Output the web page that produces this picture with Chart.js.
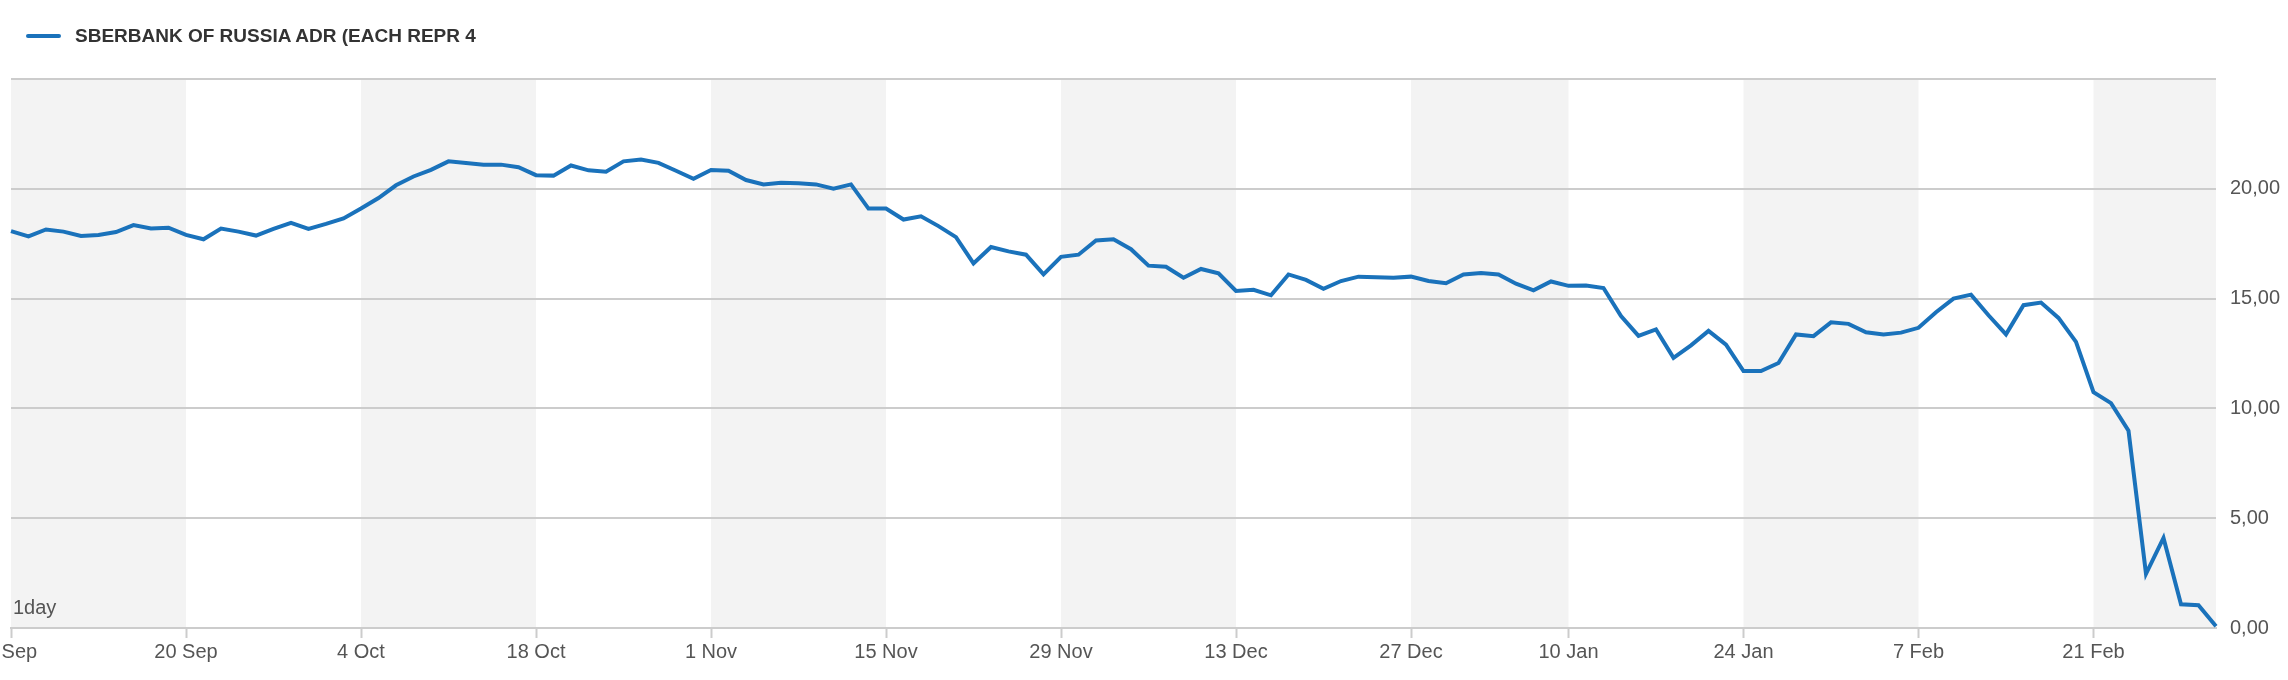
<!DOCTYPE html>
<html>
<head>
<meta charset="utf-8">
<script src="https://cdn.jsdelivr.net/npm/chart.js@4"></script>
<style>
  body { margin: 0; background: #fff; }
  #wrap { position: relative; width: 2288px; height: 680px; }
  #legend { position: absolute; left: 26px; top: 25px; font: bold 19px "Liberation Sans", Arial, sans-serif; color: #333; display: flex; align-items: center; }
  #legend span.swatch { display: inline-block; width: 35px; height: 4px; background: #1a72bb; margin-right: 14px; border-radius: 2px; }
  #period { position: absolute; left: 13px; top: 596px; font: 20px "Liberation Sans", Arial, sans-serif; color: #555; }
</style>
</head>
<body>
<div id="wrap">
  <canvas id="chart" width="2288" height="680"></canvas>
  <div id="legend"><span class="swatch"></span>SBERBANK OF RUSSIA ADR (EACH REPR 4</div>
  <div id="period">1day</div>
</div>
<script>
// daily closes, 6 Sep .. early Mar (trading days)
const prices = [
  18.07, 17.83, 18.15, 18.05, 17.85, 17.9, 18.03, 18.35, 18.19, 18.23,
  17.9, 17.7, 18.19, 18.05, 17.87, 18.17, 18.45, 18.17, 18.4, 18.65,
  19.1, 19.58, 20.16, 20.56, 20.86, 21.25, 21.18, 21.1, 21.1, 20.98,
  20.62, 20.6, 21.06, 20.84, 20.78, 21.25, 21.33, 21.18, 20.82, 20.46,
  20.86, 20.82, 20.4, 20.2, 20.28, 20.25, 20.2, 20.0, 20.2, 19.1,
  19.1, 18.6, 18.75, 18.3, 17.8, 16.6, 17.35, 17.15, 17.0, 16.1,
  16.9, 17.0, 17.65, 17.7, 17.25, 16.5, 16.45, 15.95, 16.35, 16.15,
  15.35, 15.4, 15.15, 16.1, 15.85, 15.45, 15.8, 16.0, 15.97, 15.95,
  16.0, 15.8, 15.7, 16.1, 16.17, 16.1, 15.68, 15.38, 15.78, 15.58,
  15.6, 15.48, 14.2, 13.3, 13.6, 12.3, 12.87, 13.53, 12.9, 11.7,
  11.7, 12.07, 13.37, 13.29, 13.92, 13.85, 13.47, 13.37, 13.45, 13.67,
  14.38, 15.0, 15.18, 14.24, 13.37, 14.7, 14.82, 14.12, 13.03, 10.74,
  10.24, 8.98, 2.47, 4.1, 1.08, 1.04, 0.08
];
const tickIdx = [0, 10, 20, 30, 40, 50, 60, 70, 80, 89, 99, 109, 119];
const tickText = ['6 Sep', '20 Sep', '4 Oct', '18 Oct', '1 Nov', '15 Nov', '29 Nov', '13 Dec', '27 Dec', '10 Jan', '24 Jan', '7 Feb', '21 Feb'];
const yTicks = [0, 5, 10, 15, 20];

const labels = prices.map((_, i) => i);

// alternating grey bands between date ticks
const bands = {
  id: 'bands',
  beforeDraw(chart) {
    const { ctx, chartArea, scales } = chart;
    const edges = tickIdx.concat([prices.length - 1]);
    ctx.save();
    ctx.fillStyle = '#f3f3f3';
    for (let i = 0; i < edges.length - 1; i += 2) {
      const x1 = scales.x.getPixelForValue(edges[i]);
      const x2 = scales.x.getPixelForValue(edges[i + 1]);
      ctx.fillRect(x1, chartArea.top, x2 - x1, chartArea.bottom - chartArea.top);
    }
    ctx.restore();
  }
};

new Chart(document.getElementById('chart').getContext('2d'), {
  type: 'line',
  data: {
    labels: labels,
    datasets: [{
      data: prices,
      borderColor: '#1a72bb',
      borderWidth: 4,
      pointRadius: 0,
      tension: 0,
      fill: false
    }]
  },
  options: {
    responsive: false,
    animation: false,
    layout: { padding: { left: 11, top: 79, right: 0, bottom: 0 } },
    plugins: { legend: { display: false }, tooltip: { enabled: false } },
    scales: {
      x: {
        type: 'category',
        offset: false,
        afterFit: s => { s.height = 52; s.paddingLeft = 0; s.paddingRight = 0; },
        border: { color: '#cccccc', width: 2 },
        grid: {
          drawOnChartArea: false,
          tickLength: 10,
          tickWidth: 2,
          tickColor: c => tickIdx.includes(c.index) ? '#cccccc' : 'rgba(0,0,0,0)'
        },
        ticks: {
          autoSkip: false,
          maxRotation: 0,
          padding: 2,
          color: '#555',
          font: { family: '"Liberation Sans", Arial, sans-serif', size: 20 },
          callback: (v, i) => {
            const k = tickIdx.indexOf(i);
            return k >= 0 ? tickText[k] : '';
          }
        }
      },
      y: {
        position: 'right',
        min: 0,
        max: 25,
        afterFit: s => { s.width = 72; s.paddingTop = 0; s.paddingBottom = 0; },
        border: { display: false },
        grid: { color: '#cccccc', lineWidth: 2, drawTicks: false },
        ticks: {
          stepSize: 5,
          padding: 14,
          color: '#555',
          font: { family: '"Liberation Sans", Arial, sans-serif', size: 20 },
          callback: v => yTicks.includes(v) ? v.toFixed(2).replace('.', ',') : ''
        }
      }
    }
  },
  plugins: [bands]
});
</script>
</body>
</html>
